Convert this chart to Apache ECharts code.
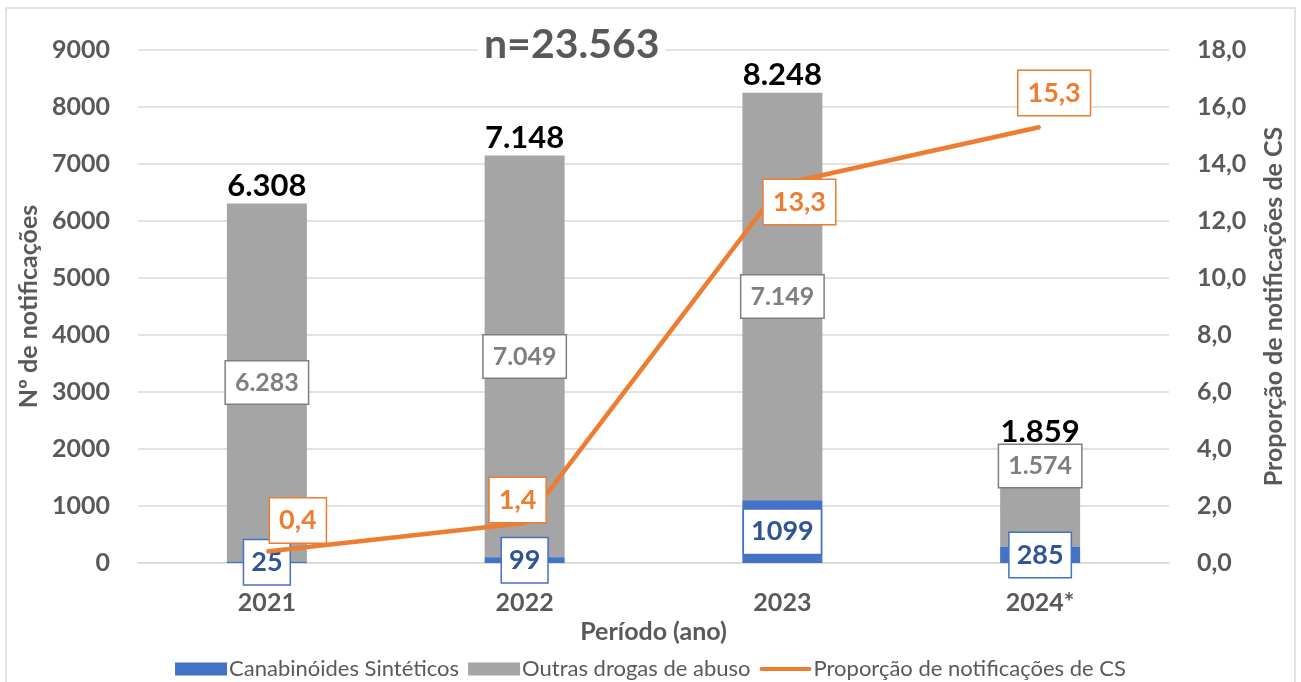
<!DOCTYPE html>
<html>
<head>
<meta charset="utf-8">
<script src="https://cdn.jsdelivr.net/npm/echarts@6/dist/echarts.min.js"></script>
<style>
  html, body { margin: 0; padding: 0; background: #fff; }
  #chart { width: 1301px; height: 682px; }
</style>
</head>
<body>
<div id="chart"></div>
<script>
(function () {
  'use strict';

  //////////DADOS
  var anos = ['2021', '2022', '2023', '2024*'];
  var canabinoides = [25, 99, 1099, 285];
  var outrasDrogas = [6283, 7049, 7149, 1574];
  var totais = [6308, 7148, 8248, 1859];
  var proporcaoCS = [0.4, 1.4, 13.3, 15.3];
  var amostra = 'n=23.563';
  //////////

  var FONT = 'Lato, "Open Sans", sans-serif';
  var CINZA_TXT = '#595959';
  var AZUL = '#4472C4';
  var CINZA = '#A5A5A5';
  var LARANJA = '#ED7D31';

  //Deslocamento das etiquetas (como no Excel)
  var offsetLaranja = [[31, -31], [-7, -23], [17, 18], [14, -34]];
  var offsetCinza = [[0, 0], [0, 0], [0, 0], [0, -36]];
  var offsetTotal = [[0, 0], [0, 0], [0, 0], [0, -8]];

  function milhar(v) {
    return String(v).replace(/\B(?=(\d{3})+(?!\d))/g, '.');
  }
  function decimal(v) {
    return v.toFixed(1).replace('.', ',');
  }

  var chart = echarts.init(document.getElementById('chart'));

  var rotuloEixo = { fontSize: 25, fontWeight: 'bold', color: CINZA_TXT, fontFamily: FONT };

  var option = {
    animation: false,
    textStyle: { fontFamily: FONT },
    title: {
      text: amostra,
      left: 478,
      top: 24,
      padding: [0, 6],
      backgroundColor: '#fff',
      textStyle: { fontSize: 41, fontWeight: 'bold', color: CINZA_TXT, fontFamily: FONT }
    },
    graphic: [
      {
        type: 'rect',
        shape: { x: 6, y: 8, width: 1289, height: 700 },
        style: { fill: 'none', stroke: '#D9D9D9', lineWidth: 1.5 },
        silent: true
      }
    ],
    legend: {
      top: 653,
      left: 'center',
      itemWidth: 52,
      itemHeight: 13,
      itemGap: 9,
      textStyle: { fontFamily: FONT, fontSize: 22, color: CINZA_TXT, padding: [0, 0, 0, -3] },
      data: [
        { name: 'Canabinóides Sintéticos', icon: 'rect' },
        { name: 'Outras drogas de abuso', icon: 'rect' },
        { name: 'Proporção de notificações de CS', icon: 'path://M2,0 L50,0 A2,2 0 0 1 50,4 L2,4 A2,2 0 0 1 2,0 Z' }
      ]
    },
    grid: { left: 138, right: 132, top: 50, bottom: 119 },
    xAxis: {
      type: 'category',
      data: anos,
      axisTick: { show: false },
      axisLine: { lineStyle: { color: '#D9D9D9', width: 1.5 } },
      axisLabel: Object.assign({ margin: 27 }, rotuloEixo),
      name: 'Período (ano)',
      nameLocation: 'middle',
      nameGap: 49,
      nameTextStyle: rotuloEixo
    },
    yAxis: [
      {
        type: 'value',
        min: 0, max: 9000, interval: 1000,
        axisLabel: Object.assign({ margin: 28, formatter: function (v) { return String(v); } }, rotuloEixo),
        splitLine: { lineStyle: { color: '#D9D9D9', width: 1.5 } },
        name: 'Nº de notificações',
        nameLocation: 'middle',
        nameGap: 88,
        nameTextStyle: rotuloEixo
      },
      {
        type: 'value',
        min: 0, max: 18, interval: 2,
        position: 'right',
        axisLabel: Object.assign({ margin: 28, formatter: decimal }, rotuloEixo),
        splitLine: { show: false },
        name: 'Proporção de notificações de CS',
        nameLocation: 'middle',
        nameGap: 92,
        nameRotate: 90,
        nameTextStyle: rotuloEixo
      }
    ],
    series: [
      {
        name: 'Canabinóides Sintéticos',
        type: 'bar',
        stack: 'total',
        barWidth: 80,
        itemStyle: { color: AZUL },
        data: canabinoides,
        z: 3,
        label: {
          show: true,
          position: 'inside',
          fontSize: 27,
          fontWeight: 'bold',
          color: '#2F5597',
          backgroundColor: '#fff',
          borderColor: AZUL,
          borderWidth: 1.5,
          padding: [10, 7, 7, 7]
        }
      },
      {
        name: 'Outras drogas de abuso',
        type: 'bar',
        stack: 'total',
        itemStyle: { color: CINZA },
        data: outrasDrogas.map(function (v, i) {
          return { value: v, label: { offset: offsetCinza[i] } };
        }),
        label: {
          show: true,
          position: 'inside',
          fontSize: 25,
          fontWeight: 'bold',
          color: '#7F7F7F',
          backgroundColor: '#fff',
          borderColor: '#7F7F7F',
          borderWidth: 1.5,
          padding: [10, 9, 7, 9],
          formatter: function (p) { return milhar(p.value); }
        }
      },
      {
        //Rotulo do total no topo da pilha
        name: 'Total',
        type: 'bar',
        stack: 'total',
        itemStyle: { color: 'transparent' },
        data: totais.map(function (v, i) {
          return { value: 0, label: { offset: offsetTotal[i] } };
        }),
        label: {
          show: true,
          position: 'top',
          distance: 2,
          fontSize: 31,
          fontWeight: 'bold',
          color: '#000',
          formatter: function (p) { return milhar(totais[p.dataIndex]); }
        }
      },
      {
        name: 'Proporção de notificações de CS',
        type: 'line',
        yAxisIndex: 1,
        symbol: 'circle',
        symbolSize: 2,
        lineStyle: { color: LARANJA, width: 4.5 },
        itemStyle: { color: LARANJA },
        z: 4,
        data: proporcaoCS.map(function (v, i) {
          return { value: v, label: { offset: offsetLaranja[i] } };
        }),
        label: {
          show: true,
          position: 'inside',
          fontSize: 27,
          fontWeight: 'bold',
          color: LARANJA,
          backgroundColor: '#fff',
          borderColor: LARANJA,
          borderWidth: 1.5,
          padding: [10, 9, 7, 9],
          formatter: function (p) { return decimal(p.value); }
        }
      }
    ]
  };

  chart.setOption(option);
})();
</script>
</body>
</html>
